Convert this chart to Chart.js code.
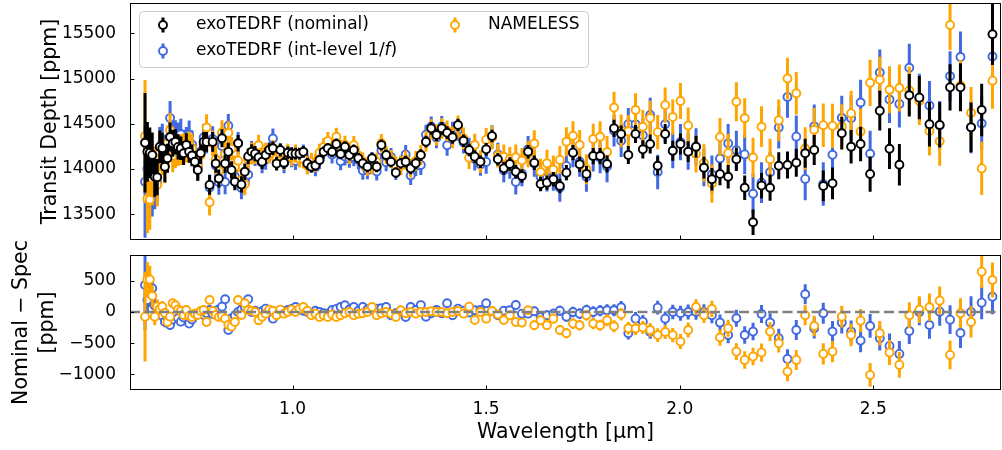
<!DOCTYPE html>
<html lang="en">
<head>
    <meta charset="UTF-8">
    <title>Transit Depth comparison</title>
    <script src="https://cdn.jsdelivr.net/npm/chart.js"></script>
    <style>
        body { margin: 0; background: #fff; }
        #wrap { position: relative; width: 1002px; height: 450px; }
        #wrap canvas { position: absolute; left: 0; top: 0; }
    </style>
</head>
<body>
<div id="wrap">
    <canvas id="topChart" width="1002" height="450"></canvas>
    <canvas id="bottomChart" width="1002" height="450"></canvas>
</div>

<script>
    // wavelength bins (R ~ 100)
    const wavelength = [
        0.6188,0.6249,0.6312,0.6375,0.6439,0.6503,0.6569,0.6634,0.6701,0.6767,
        0.6835,0.6903,0.6972,0.7042,0.7113,0.7184,0.7255,0.7328,0.7401,0.7475,
        0.7550,0.7626,0.7702,0.7778,0.7856,0.7935,0.8015,0.8095,0.8176,0.8257,
        0.8340,0.8423,0.8508,0.8593,0.8679,0.8765,0.8853,0.8942,0.9031,0.9122,
        0.9213,0.9304,0.9398,0.9492,0.9587,0.9683,0.9779,0.9877,0.9976,1.0076,
        1.0177,1.0278,1.0381,1.0485,1.0590,1.0696,1.0802,1.0910,1.1020,1.1130,
        1.1241,1.1353,1.1467,1.1582,1.1698,1.1814,1.1933,1.2052,1.2173,1.2294,
        1.2417,1.2542,1.2667,1.2793,1.2921,1.3051,1.3182,1.3313,1.3446,1.3581,
        1.3717,1.3853,1.3992,1.4132,1.4273,1.4416,1.4560,1.4706,1.4853,1.5001,
        1.5152,1.5303,1.5456,1.5611,1.5766,1.5924,1.6084,1.6244,1.6407,1.6571,
        1.6736,1.6904,1.7073,1.7243,1.7416,1.7591,1.7766,1.7944,1.8124,1.8304,
        1.8488,1.8673,1.8859,1.9048,1.9238,1.9431,1.9625,1.9821,2.0020,2.0219,
        2.0422,2.0626,2.0832,2.1041,2.1252,2.1464,2.1679,2.1895,2.2114,2.2335,
        2.2559,2.2784,2.3012,2.3242,2.3475,2.3709,2.3947,2.4187,2.4428,2.4673,
        2.4919,2.5169,2.5420,2.5675,2.5931,2.6191,2.6452,2.6716,2.6984,2.7253,
        2.7526,2.7801,2.8080
    ];

    // exoTEDRF (nominal)
    const nominal = [
        14290,14190,14180,14155,13915,13910,14245,14230,14025,14120,
        14355,14285,14300,14245,14230,14175,14265,14190,14150,14080,
        13990,14175,14300,14300,13825,14300,14060,13895,14340,14060,
        14190,13990,13860,14285,13830,13970,14140,14190,14170,14130,
        14080,14155,14210,14230,14060,14210,14070,14180,14170,14170,
        14170,14190,14060,14026,14040,14100,14190,14229,14192,14277,
        14167,14247,14155,14211,14119,14063,14026,14119,14026,14266,
        14155,14081,13960,14063,14081,14008,14063,14155,14302,14450,
        14376,14450,14402,14351,14487,14313,14211,14137,14081,14218,
        14365,14108,14008,14056,13970,13923,14192,14070,13835,13850,
        13887,13813,13960,14181,14053,13945,14144,14144,14056,14450,
        14387,14155,14387,14218,14277,14037,14387,14203,14277,14192,
        14247,14015,13887,13945,13915,14108,13794,13412,13817,13794,
        14037,14045,14070,14174,14211,13813,13842,14395,14247,14277,
        13945,14645,14225,14048,14815,14789,14495,14487,14903,14903,
        14461,14652,15489
    ];
    const nominalErr = [
        550,330,280,250,220,200,180,170,170,160,
        160,150,140,140,130,130,130,120,120,120,
        120,120,110,110,110,110,100,100,100,100,
        100,95,95,90,90,90,85,85,85,80,
        80,80,75,75,75,70,70,70,70,65,
        65,65,65,60,60,60,60,60,60,60,
        60,60,60,60,60,60,60,60,60,60,
        60,60,60,60,65,65,65,65,65,70,
        70,70,70,70,70,70,70,70,70,70,
        70,70,70,75,75,75,75,80,80,80,
        80,80,85,85,85,90,90,90,95,95,
        95,100,100,100,105,105,110,110,115,115,
        120,120,125,125,130,130,135,140,140,145,
        150,150,155,160,165,170,175,180,185,190,
        195,220,225,230,235,240,245,250,255,265,
        275,290,340
    ];

    // exoTEDRF (int-level 1/f)
    const intLevel = [
        13860,14000,13880,13775,13815,13850,14245,14290,14180,14220,
        14563,14405,14360,14345,14385,14265,14305,14377,14270,14140,
        14020,14195,14348,14320,13795,14332,14040,13855,14255,13857,
        14478,14090,13920,14285,13790,13890,13937,14190,14150,14157,
        14070,14102,14190,14337,14100,14183,14060,14150,14120,14090,
        14130,14170,14060,14056,14020,14100,14210,14256,14162,14227,
        14087,14140,14115,14131,14099,13983,13986,14089,13973,14206,
        14075,14134,13980,14043,14161,13928,14033,14045,14380,14471,
        14346,14471,14263,14404,14434,14293,14221,14110,14051,14079,
        14355,14161,13988,14029,13858,13950,14219,14060,13915,13903,
        13914,13793,14035,14181,14080,13915,14144,14124,14029,14423,
        14312,14496,14494,14373,14597,13968,14494,14203,14298,14192,
        14247,14015,13940,14116,14283,14209,14162,13727,13849,13965,
        14458,14797,14358,13891,14472,13834,14157,14566,14562,14736,
        14169,15066,14769,14720,15119,14789,14703,14482,15026,15239,
        14461,14503,15244
    ];

    // NAMELESS
    const nameless = [
        14365,13670,13660,13899,13990,13825,14195,14145,14043,14280,
        14430,14146,14193,14205,14214,14223,14233,14254,14230,14110,
        14038,14159,14268,14460,13633,14284,14108,13975,14404,14167,
        14398,14225,14020,14093,13878,13831,14108,14170,14170,14263,
        14155,14182,14173,14210,14113,14173,14097,14180,14133,14170,
        14117,14110,14040,14079,14067,14180,14243,14309,14232,14357,
        14220,14267,14155,14264,14149,14083,14026,14039,14079,14286,
        14155,14111,14040,14036,14101,14008,14090,14155,14302,14440,
        14376,14450,14422,14351,14471,14340,14126,14265,14081,14325,
        14349,14148,14136,14109,14130,14094,14165,14283,13968,14063,
        13994,14101,14301,14368,14266,13998,14331,14357,14189,14679,
        14422,14416,14653,14468,14565,14408,14707,14574,14752,14480,
        14167,14068,13839,14355,14176,14743,14562,14127,14468,14109,
        14538,15000,14838,14227,14435,14485,14477,14470,14615,14416,
        14953,14986,14876,14896,14868,14752,14420,14306,15591,14924,
        14621,14007,14977
    ];
    const specErr = [
        620,380,330,300,260,240,220,210,200,200,
        190,180,180,170,170,170,160,160,160,150,
        150,150,150,145,145,140,140,140,135,135,
        130,130,130,125,125,120,120,120,115,115,
        115,110,110,110,105,105,105,100,100,100,
        100,100,100,100,100,100,100,100,100,100,
        100,100,100,100,100,100,100,100,100,100,
        100,100,100,105,105,105,110,110,110,110,
        115,115,115,120,120,120,125,125,125,130,
        130,130,135,135,140,140,145,145,150,150,
        155,155,160,160,165,165,170,170,175,175,
        180,180,185,185,190,190,195,195,200,200,
        205,205,210,210,215,215,220,220,225,225,
        230,230,235,235,240,240,245,245,250,250,
        255,255,260,260,265,265,270,270,275,280,
        285,295,310
    ];

    // Nominal - Spec residuals
    const diffIntLevel = [
        430,190,300,380,100,60,0,-60,-155,-100,
        -208,-120,-60,-100,-155,-90,-40,-187,-120,-60,
        -30,-20,-48,-20,30,-32,20,40,85,203,
        -288,-100,-60,0,40,80,203,0,20,-27,
        10,53,20,-107,-40,27,10,30,50,80,
        40,20,0,-30,20,0,-20,-27,30,50,
        80,107,40,80,20,80,40,30,53,60,
        80,-53,-20,20,-80,80,30,110,-78,-21,
        30,-21,139,-53,53,20,-10,27,30,139,
        10,-53,20,27,112,-27,-27,10,-80,-53,
        -27,20,-75,0,-27,30,0,20,27,27,
        75,-341,-107,-155,-320,69,-107,0,-21,0,
        0,0,-53,-171,-368,-101,-368,-315,-32,-171,
        -421,-752,-288,283,-261,-21,-315,-171,-315,-459,
        -224,-421,-544,-672,-304,0,-208,5,-123,-336,
        0,149,245
    ];
    const diffNameless = [
        -75,520,520,256,-75,85,50,85,-18,-160,
        -75,139,107,40,16,-48,32,-64,-80,-30,
        -48,16,32,-160,192,16,-48,-80,-64,-107,
        -208,-235,-160,192,-48,139,32,20,0,-133,
        -75,-27,37,20,-53,37,-27,0,37,0,
        53,80,20,-53,-27,-80,-53,-80,-40,-80,
        -53,-20,0,-53,-30,-20,0,80,-53,-20,
        0,-30,-80,27,-20,0,-27,0,0,10,
        0,0,-20,0,16,-27,85,-128,0,-107,
        16,-40,-128,-53,-160,-171,27,-213,-133,-213,
        -107,-288,-341,-187,-213,-53,-187,-213,-133,-229,
        -35,-261,-266,-250,-288,-371,-320,-371,-475,-288,
        80,-53,48,-410,-261,-635,-768,-715,-651,-315,
        -501,-955,-768,-53,-224,-672,-635,-75,-368,-139,
        -1008,-341,-651,-848,-53,37,75,181,-688,-21,
        -160,645,512
    ];
    const diffErr = [
        720,280,220,180,140,120,100,90,90,80,
        80,70,70,70,65,65,60,60,60,55,
        55,55,55,50,50,50,50,50,50,45,
        45,45,45,45,45,45,45,45,45,45,
        40,40,40,40,40,40,40,40,40,40,
        40,40,40,40,40,40,40,40,40,40,
        40,40,40,40,40,40,40,40,40,40,
        40,40,40,40,45,45,45,45,45,50,
        50,50,50,50,55,55,55,60,60,60,
        60,65,65,65,70,70,70,75,75,75,
        80,80,80,85,85,85,90,90,95,95,
        100,100,105,105,110,110,115,115,120,120,
        125,125,130,130,135,135,140,140,145,150,
        150,155,160,160,165,170,170,175,180,185,
        190,195,200,205,210,215,220,225,230,240,
        250,265,280
    ];

    const xTicks = [1.0, 1.5, 2.0, 2.5];
    const topTicks = [13500, 14000, 14500, 15000, 15500];
    const bottomTicks = [-1000, -500, 0, 500];

    const xMin = 0.58, xMax = 2.83;
    const topMin = 13216, topMax = 15835;
    const bottomMin = -1250, bottomMax = 912;

    const BLACK = '#000000', BLUE = '#4169e1', ORANGE = '#ffa500';

    Chart.defaults.font.family = '"DejaVu Sans", sans-serif';
    Chart.defaults.color = '#000';

    // vertical error bar segments, split with null gaps
    function errorBars(vals, errs) {
        const out = [];
        wavelength.forEach((w, i) => {
            out.push({ x: w, y: vals[i] - errs[i] }, { x: w, y: vals[i] + errs[i] }, { x: w, y: null });
        });
        return out;
    }

    function points(vals) {
        return wavelength.map((w, i) => ({ x: w, y: vals[i] }));
    }

    function barSet(vals, errs, color, order) {
        return {
            type: 'line', data: errorBars(vals, errs), borderColor: color, borderWidth: 3,
            borderCapStyle: 'butt', pointRadius: 0, pointHitRadius: 0, spanGaps: false, clip: 0, order: order
        };
    }

    function markerSet(vals, color, order) {
        return {
            type: 'scatter', data: points(vals), pointRadius: 4, pointBorderWidth: 1.9,
            pointBackgroundColor: '#ffffff', pointBorderColor: color, clip: 0, order: order
        };
    }

    // axes box and inward tick marks
    const frame = {
        id: 'frame',
        afterDraw(chart, args, opts) {
            const { ctx, chartArea: a, scales } = chart;
            ctx.save();
            ctx.strokeStyle = '#000';
            ctx.lineWidth = 1;
            ctx.strokeRect(a.left + 0.5, a.top + 0.5, a.right - a.left - 1, a.bottom - a.top - 1);
            ctx.beginPath();
            xTicks.forEach(v => {
                const px = Math.round(scales.x.getPixelForValue(v)) + 0.5;
                ctx.moveTo(px, a.bottom);
                ctx.lineTo(px, a.bottom - 4.5);
            });
            opts.yTicks.forEach(v => {
                const py = Math.round(scales.y.getPixelForValue(v)) + 0.5;
                ctx.moveTo(a.left, py);
                ctx.lineTo(a.left + 4.5, py);
            });
            ctx.stroke();
            ctx.restore();
        }
    };

    const legendItems = [
        { parts: [{ t: 'exoTEDRF (nominal)' }], color: BLACK, x: 163, y: 25 },
        { parts: [{ t: 'exoTEDRF (int-level 1/' }, { t: 'f', italic: true }, { t: ')' }], color: BLUE, x: 163, y: 51 },
        { parts: [{ t: 'NAMELESS' }], color: ORANGE, x: 455, y: 25 }
    ];

    const legendBox = {
        id: 'legendBox',
        afterDatasetsDraw(chart) {
            const ctx = chart.ctx;
            ctx.save();
            ctx.beginPath();
            ctx.roundRect(139.5, 11.5, 449, 56, 4);
            ctx.fillStyle = 'rgba(255,255,255,0.8)';
            ctx.fill();
            ctx.strokeStyle = '#cccccc';
            ctx.lineWidth = 1;
            ctx.stroke();

            legendItems.forEach(item => {
                ctx.strokeStyle = item.color;
                ctx.lineWidth = 3;
                ctx.beginPath();
                ctx.moveTo(item.x, item.y - 7.5);
                ctx.lineTo(item.x, item.y + 7.5);
                ctx.stroke();
                ctx.beginPath();
                ctx.arc(item.x, item.y, 4, 0, Math.PI * 2);
                ctx.fillStyle = '#fff';
                ctx.fill();
                ctx.lineWidth = 1.9;
                ctx.stroke();

                let tx = item.x + 33;
                ctx.fillStyle = '#000';
                ctx.textBaseline = 'middle';
                item.parts.forEach(p => {
                    ctx.font = (p.italic ? 'italic ' : '') + '17px "DejaVu Sans"';
                    ctx.fillText(p.t, tx, item.y);
                    tx += ctx.measureText(p.t).width;
                });
            });
            ctx.restore();
        }
    };

    const tickFont = { size: 17 };
    const titleFont = { size: 20.5, lineHeight: 1.27 };
    const minusLabel = v => (v < 0 ? '\u2212' + Math.abs(v) : String(v));

    new Chart(document.getElementById('topChart'), {
        type: 'scatter',
        data: {
            datasets: [
                markerSet(nominal, BLACK, 0),
                barSet(nominal, nominalErr, BLACK, 1),
                markerSet(nameless, ORANGE, 2),
                barSet(nameless, specErr, ORANGE, 3),
                markerSet(intLevel, BLUE, 4),
                barSet(intLevel, specErr, BLUE, 5)
            ]
        },
        options: {
            responsive: false,
            animation: false,
            devicePixelRatio: 1,
            layout: { autoPadding: false, padding: { left: 0, right: 1, top: 3, bottom: 210 } },
            plugins: { legend: { display: false }, tooltip: { enabled: false }, frame: { yTicks: topTicks } },
            scales: {
                x: { type: 'linear', min: xMin, max: xMax, display: false },
                y: {
                    type: 'linear', min: topMin, max: topMax,
                    afterBuildTicks: s => { s.ticks = topTicks.map(v => ({ value: v })); },
                    afterFit: s => { s.width = 130; s.paddingTop = 0; s.paddingBottom = 0; },
                    ticks: { font: tickFont, color: '#000', padding: 6, callback: v => String(v) },
                    grid: { display: false },
                    border: { display: false },
                    title: { display: true, text: 'Transit Depth [ppm]', font: titleFont, color: '#000', padding: { top: 38, bottom: 0 } }
                }
            }
        },
        plugins: [frame, legendBox]
    });

    new Chart(document.getElementById('bottomChart'), {
        type: 'scatter',
        data: {
            datasets: [
                {
                    type: 'line', data: [{ x: xMin, y: 0 }, { x: xMax, y: 0 }], borderColor: '#808080',
                    borderWidth: 2.5, borderDash: [10, 4.5], pointRadius: 0, clip: 0, order: 0
                },
                markerSet(diffNameless, ORANGE, 1),
                barSet(diffNameless, diffErr, ORANGE, 2),
                markerSet(diffIntLevel, BLUE, 3),
                barSet(diffIntLevel, diffErr, BLUE, 4)
            ]
        },
        options: {
            responsive: false,
            animation: false,
            devicePixelRatio: 1,
            layout: { autoPadding: false, padding: { left: 0, right: 1, top: 255, bottom: 0 } },
            plugins: { legend: { display: false }, tooltip: { enabled: false }, frame: { yTicks: bottomTicks } },
            scales: {
                x: {
                    type: 'linear', min: xMin, max: xMax,
                    afterBuildTicks: s => { s.ticks = xTicks.map(v => ({ value: v })); },
                    afterFit: s => { s.height = 60; s.paddingLeft = 0; s.paddingRight = 0; },
                    ticks: { font: tickFont, color: '#000', padding: 1, autoSkip: false, maxRotation: 0, callback: v => v.toFixed(1) },
                    grid: { display: false },
                    border: { display: false },
                    title: { display: true, text: 'Wavelength [\u00b5m]', font: titleFont, color: '#000', padding: { top: 0, bottom: 4 } }
                },
                y: {
                    type: 'linear', min: bottomMin, max: bottomMax,
                    afterBuildTicks: s => { s.ticks = bottomTicks.map(v => ({ value: v })); },
                    afterFit: s => { s.width = 130; s.paddingTop = 0; s.paddingBottom = 0; },
                    ticks: { font: tickFont, color: '#000', padding: 6, callback: minusLabel },
                    grid: { display: false },
                    border: { display: false },
                    title: { display: true, text: ['Nominal \u2212 Spec', '[ppm]'], font: titleFont, color: '#000', padding: { top: 9, bottom: 0 } }
                }
            }
        },
        plugins: [frame]
    });
</script>
</body>
</html>
